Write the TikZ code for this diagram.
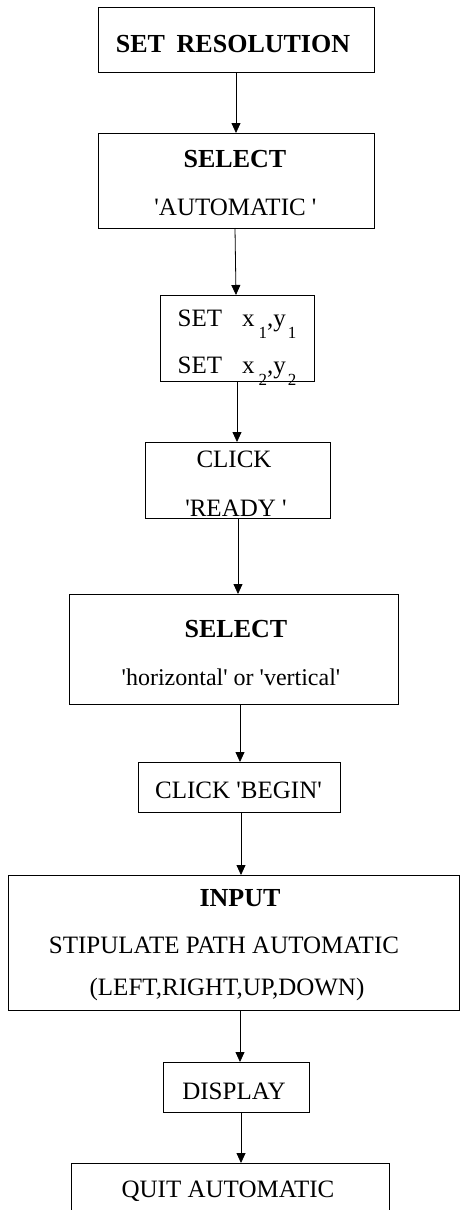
\documentclass[tikz,border=0pt]{standalone}
\usepackage{fontspec}
\setmainfont{Liberation Serif}[Ligatures=TeXOff]
\usetikzlibrary{arrows.meta}
\newcommand\lowsub[1]{\raisebox{-12pt}{\fontsize{17}{17}\selectfont #1}}
\tikzset{
  box/.style={draw, line width=1pt, inner sep=0pt, outer sep=0pt},
  lbl/.style={anchor=base, inner sep=0pt, font=\fontsize{25}{25}\selectfont},
  lblb/.style={anchor=base, inner sep=0pt, font=\fontsize{26}{26}\selectfont\bfseries},
  arr/.style={-{Triangle[length=10pt,width=9pt]}, line width=0.8pt},
}
\begin{document}
\begin{tikzpicture}[x=1pt,y=-1pt]
\useasboundingbox (0,0) rectangle (462,1210);

% boxes of the flow
\node[box, minimum width=276pt, minimum height=65pt]  (b1) at (236,39.5)  {};
\node[box, minimum width=276pt, minimum height=95pt]  (b2) at (236,180.5) {};
\node[box, minimum width=154pt, minimum height=86pt]  (b3) at (237,338)   {};
\node[box, minimum width=185pt, minimum height=76pt]  (b4) at (237.5,480) {};
\node[box, minimum width=329pt, minimum height=110pt] (b5) at (233.5,649) {};
\node[box, minimum width=202pt, minimum height=50pt]  (b6) at (239,787)   {};
\node[box, minimum width=451pt, minimum height=135pt] (b7) at (233.5,942.5) {};
\node[box, minimum width=146pt, minimum height=50pt]  (b8) at (236,1087)  {};
\node[box, minimum width=318pt, minimum height=62pt]  (b9) at (230,1194)  {};

% texts
\node[lblb] (t1) at (233,52) {SET\hskip 0.45em RESOLUTION};
\node[lblb] (t2a) at (235,167) {SELECT};
\node[lbl]  (t2b) at (235.5,215) {'AUTOMATIC '};
\node[lbl]  (t3a) at (237,326) {SET\hskip 20pt x\hskip 4pt\lowsub{1},y\hskip 2pt\lowsub{1}};
\node[lbl]  (t3b) at (237,373) {SET\hskip 20pt x\hskip 4pt\lowsub{2},y\hskip 2pt\lowsub{2}};
\node[lbl]  (t4a) at (234,467) {CLICK};
\node[lbl]  (t4b) at (236,516) {'READY '};
\node[lblb] (t5a) at (236,637) {SELECT};
\node[lbl, font=\fontsize{24}{24}\selectfont] (t5b) at (231,685) {'horizontal' or 'vertical'};
\node[lbl]  (t6) at (238.5,798) {CLICK 'BEGIN'};
\node[lblb] (t7a) at (240,906) {INPUT};
\node[lbl]  (t7b) at (224,953) {STIPULATE PATH AUTOMATIC};
\node[lbl]  (t7c) at (227,995) {(LEFT,RIGHT,UP,DOWN)};
\node[lbl]  (t8) at (234,1099) {DISPLAY};
\node[lbl]  (t9) at (228,1197) {QUIT AUTOMATIC};

% connectors
\draw[arr] (b1.south) -- (b2.north);
\draw[arr] ([xshift=-1pt]b2.south) -- ([xshift=-1pt]b3.north);
\draw[arr] (b3.south) -- ([xshift=-0.5pt]b4.north);
\draw[arr] ([xshift=0.5pt]b4.south) -- ([xshift=4.5pt]b5.north);
\draw[arr] ([xshift=6.5pt]b5.south) -- ([xshift=1pt]b6.north);
\draw[arr] ([xshift=2pt]b6.south) -- ([xshift=7.5pt]b7.north);
\draw[arr] ([xshift=6.5pt]b7.south) -- ([xshift=4pt]b8.north);
\draw[arr] ([xshift=5pt]b8.south) -- ([xshift=11pt]b9.north);
\end{tikzpicture}
\end{document}
